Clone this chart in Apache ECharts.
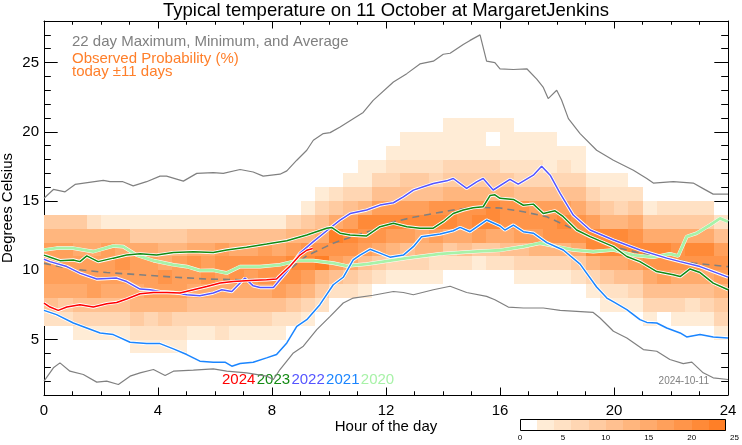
<!DOCTYPE html>
<html><head><meta charset="utf-8">
<script src="https://cdn.jsdelivr.net/npm/echarts@6/dist/echarts.min.js"></script>
<style>html,body{margin:0;padding:0;background:#fff}#c{width:742px;height:445px}</style>
</head><body><div id="c"></div><script>
const FONT = '"Liberation Sans", Arial, Helvetica, sans-serif';

// ---- data ----
const yMajor = [5, 10, 15, 20, 25];
const yMinor = [2, 3, 4, 6, 7, 8, 9, 11, 12, 13, 14, 16, 17, 18, 19, 21, 22, 23, 24, 26, 27];
const colorbarTicks = [0, 5, 10, 15, 20, 25];
const colorbarEdges = [0, 2, 4, 6, 8, 10, 12, 14, 16, 18, 20, 22, 24];
const yearLabels = ['2024', '2023', '2022', '2021', '2020'];

// probability (%) per half-hour column; first row (°C bin) of each column in probBase
const probBase = [6,6,5,5,5,5,4,4,4,4,5,5,5,5,5,5,5,6,6,7,8,8,8,9,9,9,9,9,10,10,10,10,10,9,9,9,9,9,8,7,7,7,6,7,6,6,6,5];
const probCols = [
  [5,10,14,16,17,16,13,9],
  [4,9,15,17,16,17,13,9],
  [2,6,10,14,16,16,15,12,9],
  [3,6,10,16,16,17,15,12,5],
  [3,7,10,15,17,17,16,12,3],
  [3,6,11,15,17,18,15,12,3],
  [2,4,8,12,15,17,16,14,9,3],
  [2,5,7,13,16,16,16,14,8,3],
  [2,4,8,12,16,18,15,13,9,3],
  [2,4,7,12,17,17,16,13,9,3],
  [3,6,10,15,17,18,15,11,3],
  [3,6,11,14,18,17,15,11,3],
  [4,6,10,15,17,18,16,10,3],
  [3,7,10,14,18,18,15,11,3],
  [3,6,11,15,17,19,15,10,3],
  [3,6,10,15,18,18,16,10,3],
  [3,5,10,16,19,18,15,10,3],
  [4,9,14,18,20,17,12,6],
  [3,7,12,16,21,18,12,8,3],
  [4,8,13,22,19,15,10,6,3],
  [5,10,16,19,22,14,9,5],
  [4,8,14,18,20,16,11,6,3],
  [3,6,11,16,18,21,13,7,3,2],
  [4,8,14,18,21,16,10,6,3],
  [3,6,12,17,20,17,11,7,4,3],
  [3,6,11,16,20,16,11,8,5,2,2],
  [2,6,12,15,21,17,10,8,5,2,2],
  [3,5,12,16,20,18,10,7,5,2,2],
  [4,9,14,21,19,12,9,6,3,2,2],
  [4,10,15,19,19,12,9,6,3,2,2],
  [3,9,16,20,18,13,9,6,3,2,2],
  [4,9,15,20,20,12,9,6,3,0,2],
  [4,10,15,19,19,12,9,5,3,2,2],
  [3,6,11,17,19,18,11,7,4,2,2],
  [3,6,12,17,19,17,11,7,4,2,2],
  [3,7,12,18,19,16,11,7,3,2,2],
  [3,7,13,18,20,16,10,7,4,2],
  [4,8,14,19,19,15,10,6,3,2],
  [3,7,12,20,21,17,11,6,3],
  [3,5,9,15,21,20,13,8,4,2],
  [3,5,10,15,20,21,13,7,4,2],
  [3,6,10,16,20,19,14,8,4],
  [3,6,10,15,19,20,15,9,3],
  [6,11,16,19,20,15,9,4],
  [3,6,10,14,19,19,15,9,5],
  [3,5,11,14,19,20,14,9,5],
  [3,6,10,15,18,20,15,8,5],
  [3,6,9,13,17,19,17,11,5]
];

const maxLine = [[0,15.2],[0.33,15.84],[0.74,15.67],[1.09,16.2],[2.08,16.5],[2.32,16.4],[2.77,16.4],[3.13,16.1],[3.6,16.4],[4.07,16.8],[4.3,16.8],[4.89,16.44],[5.36,17.0],[5.94,17.06],[6.29,17.0],[6.88,17.28],[7.34,17.1],[7.69,16.8],[8.28,16.94],[8.52,17.18],[8.87,17.95],[9.22,18.67],[9.45,19.39],[9.8,19.87],[10.04,19.94],[10.39,20.35],[10.85,20.95],[11.2,21.4],[11.55,22.27],[12.26,23.6],[12.73,24.2],[13.19,24.9],[13.66,25.1],[14.01,25.6],[14.25,25.67],[14.71,26.3],[14.95,26.6],[15.3,27.0],[15.53,25.1],[15.82,25.0],[16.0,24.55],[16.47,24.5],[16.94,24.55],[17.29,23.8],[17.52,23.2],[17.69,22.4],[17.99,23.0],[18.16,22.3],[18.4,20.95],[18.81,19.87],[19.39,18.67],[19.98,17.95],[20.68,17.23],[21.15,16.63],[21.38,16.3],[22.08,16.4],[22.78,16.3],[23.13,15.9],[23.48,15.5],[24,15.5]];
const minLine = [[0,2.0],[0.33,2.96],[0.56,3.32],[0.91,2.72],[1.38,2.48],[1.85,1.93],[2.2,2.0],[2.61,1.76],[3.02,2.36],[3.37,2.6],[3.84,2.84],[4.25,2.41],[4.54,2.72],[5.24,2.79],[5.94,2.89],[6.41,2.72],[7.11,2.6],[7.81,2.36],[8.05,2.12],[8.28,2.84],[8.75,4.04],[9.1,4.52],[9.57,5.72],[10.04,6.68],[10.5,7.64],[10.85,8.0],[11.55,8.2],[12.26,8.47],[12.61,8.4],[12.96,8.24],[13.66,8.6],[14.25,8.85],[14.83,8.4],[15.53,8.12],[15.82,7.88],[16.29,7.35],[16.82,7.28],[17.52,7.28],[18.11,7.11],[19.27,6.96],[19.51,6.56],[19.98,5.6],[20.45,5.12],[21.03,4.28],[21.5,4.16],[21.96,3.56],[22.43,3.27],[22.73,3.37],[23.13,2.6],[23.48,2.24],[24,2.12]];
const avgLine = [[0,10.5],[1.03,10.08],[2.2,9.84],[3.37,9.68],[4.54,9.51],[5.71,9.37],[6.88,9.32],[8.05,9.35],[8.52,9.9],[9.22,11.05],[10.15,11.96],[10.97,12.55],[11.55,12.9],[12.14,13.44],[12.96,13.83],[13.66,14.1],[14.36,14.35],[15.06,14.55],[16.0,14.5],[16.82,14.23],[17.64,13.87],[18.34,13.2],[19.16,12.39],[19.98,11.71],[20.91,11.24],[21.85,10.88],[22.78,10.52],[24,10.27]];
const y2024 = [[0,7.64],[0.21,7.35],[0.5,7.11],[0.8,7.35],[1.26,7.52],[1.73,7.35],[2.2,7.59],[2.55,7.68],[2.9,7.93],[3.37,8.31],[3.84,8.4],[4.31,8.4],[4.77,8.36],[5.24,8.6],[5.71,8.83],[6.18,9.08],[6.64,9.19],[7.23,9.27],[7.81,9.32],[8.16,9.37],[8.63,10.3],[8.98,11.1],[9.22,11.45],[9.43,11.57]];
const y2023 = [[0,11.1],[0.21,10.95],[0.56,10.7],[1.03,10.75],[1.26,10.63],[1.5,11.04],[1.9,10.63],[2.43,10.88],[2.9,11.1],[3.37,11.19],[3.95,11.1],[4.54,11.28],[5.24,11.35],[5.94,11.28],[6.41,11.47],[7.11,11.67],[7.81,11.9],[8.52,12.14],[9.22,12.55],[9.92,13.04],[10.09,13.1],[10.39,12.68],[10.74,12.55],[11.32,12.48],[11.79,13.15],[12.26,13.4],[12.73,13.15],[13.19,13.04],[13.66,13.04],[14.01,13.51],[14.36,14.1],[14.71,14.35],[15.06,14.52],[15.41,14.59],[15.65,15.4],[15.82,15.45],[16.0,15.2],[16.47,15.12],[16.82,14.7],[17.17,14.78],[17.52,14.1],[17.93,14.3],[18.22,13.87],[18.69,12.91],[19.16,12.43],[19.98,11.71],[20.45,11.0],[20.91,10.63],[21.5,9.91],[22.08,9.68],[22.32,9.55],[22.67,10.1],[23.02,9.84],[23.48,9.08],[24,8.6]];
const y2022 = [[0,10.8],[0.21,10.63],[0.8,10.27],[1.26,9.8],[1.85,9.37],[2.55,9.44],[2.9,9.19],[3.37,8.65],[3.72,8.6],[4.07,8.47],[4.54,8.4],[5.01,8.24],[5.47,8.17],[5.94,8.36],[6.24,8.6],[6.59,8.47],[6.88,9.08],[7.05,9.44],[7.34,8.88],[7.58,8.76],[8.05,8.76],[8.52,9.91],[8.98,11.24],[9.45,12.07],[9.92,12.86],[10.39,13.63],[10.74,14.1],[11.32,14.35],[11.79,14.71],[12.26,14.88],[12.61,15.3],[12.96,15.79],[13.31,16.03],[13.66,16.27],[14.13,16.46],[14.36,16.63],[14.83,15.91],[15.18,16.39],[15.41,16.63],[15.76,15.8],[16.35,16.56],[16.64,16.22],[17.17,16.87],[17.46,17.52],[17.76,16.87],[18.11,15.55],[18.57,13.99],[19.16,12.91],[19.98,12.19],[20.91,11.47],[21.85,10.88],[22.32,10.63],[23.02,10.27],[24,9.51]];
const y2021 = [[0,7.11],[0.44,6.8],[1.03,6.2],[1.5,5.84],[1.97,5.48],[2.43,5.36],[3.02,4.81],[3.6,4.71],[4.07,4.71],[4.54,4.33],[5.01,3.92],[5.47,3.44],[5.94,3.37],[6.35,3.37],[6.59,3.08],[6.88,3.27],[7.34,3.37],[7.81,3.68],[8.16,3.92],[8.52,4.76],[8.87,5.96],[9.22,6.44],[9.68,7.52],[10.15,8.96],[10.5,9.5],[10.85,10.76],[11.09,11.1],[11.44,11.52],[11.79,11.24],[12.14,10.95],[12.61,11.1],[12.96,11.71],[13.25,12.43],[13.9,12.62],[14.36,12.86],[14.6,13.1],[14.95,12.79],[15.53,13.63],[16.0,13.2],[16.17,12.91],[16.47,13.27],[16.82,12.79],[17.17,12.68],[17.64,12.0],[18.22,11.47],[18.81,10.45],[19.39,8.8],[19.75,8.0],[20.0,7.7],[20.45,7.16],[20.91,6.44],[21.15,6.24],[21.5,6.2],[21.85,5.84],[22.32,5.48],[22.55,5.19],[23.02,5.36],[23.48,5.19],[24,5.12]];
const y2020 = [[0,11.47],[0.44,11.6],[1.03,11.6],[1.73,11.35],[2.43,11.76],[2.78,11.71],[3.25,11.1],[3.84,10.7],[4.54,10.4],[5.01,10.27],[5.47,9.99],[5.94,10.0],[6.41,9.8],[6.88,10.27],[7.58,10.27],[8.28,10.4],[8.87,10.7],[9.45,10.7],[10.15,10.52],[10.62,10.32],[11.32,10.45],[12.14,10.7],[12.73,10.88],[13.9,11.19],[15.06,11.35],[16.0,11.45],[16.82,11.71],[17.4,11.96],[17.87,11.76],[18.57,11.47],[19.27,11.35],[19.98,11.47],[20.68,11.1],[21.38,10.95],[21.96,11.19],[22.25,11.04],[22.55,12.43],[22.9,12.68],[23.37,13.27],[23.72,13.75],[24,13.51]];

// ---- styles ----
const PALETTE = ['#ffffff','#ffecd6','#ffe1c4','#ffd6b3','#ffcba1','#ffc090','#ffb67e','#ffab6d','#ffa05b','#ff954a','#ff8a38','#ff7f27'];
const GRAY = '#808080';
const ORANGE = '#ff7f2a';
const YEAR_COLORS = {'2024':'#ff0000','2023':'#138a13','2022':'#5555ff','2021':'#1a85ff','2020':'#a8f2a8'};

function bandOf(v) { return Math.max(0, Math.min(11, Math.floor(v / 2))); }

const cellData = [];
probCols.forEach(function (col, c) {
  col.forEach(function (v, i) { cellData.push([c * 0.5, probBase[c] + i, v]); });
});
const cbData = [];
for (let i = 0; i < colorbarEdges.length - 1; i++) cbData.push([colorbarEdges[i], colorbarEdges[i + 1], i]);

function cellItem(params, api) {
  const h = api.value(0), t = api.value(1), v = api.value(2);
  const b = bandOf(v);
  if (b <= 0) return null;
  const p0 = api.coord([h, t + 1]);
  const p1 = api.coord([h + 0.5, t]);
  const x0 = Math.round(p0[0]), y0 = Math.round(p0[1]);
  const x1 = Math.round(p1[0]), y1 = Math.round(p1[1]);
  return { type: 'rect', shape: { x: x0, y: y0, width: x1 - x0, height: y1 - y0 }, style: { fill: PALETTE[b] } };
}
function cbItem(params, api) {
  const a = api.coord([api.value(0), 1]);
  const b = api.coord([api.value(1), 0]);
  const x0 = Math.round(a[0]), x1 = Math.round(b[0]);
  return { type: 'rect', shape: { x: x0, y: a[1], width: x1 - x0, height: b[1] - a[1] }, style: { fill: PALETTE[api.value(2)] } };
}
function cbBorder(params, api) {
  const a = api.coord([api.value(0), 1]);
  const b = api.coord([api.value(1), 0]);
  return { type: 'rect', shape: { x: Math.round(a[0]) + 0.5, y: Math.round(a[1]) + 0.5, width: Math.round(b[0] - a[0]) - 1, height: Math.round(b[1] - a[1]) - 1 }, style: { fill: null, stroke: '#000', lineWidth: 1 } };
}

function xAxisCfg(pos, labels) {
  return {
    type: 'value', gridIndex: 0, position: pos, min: 0, max: 24, interval: 4,
    axisLine: { show: true, onZero: false, lineStyle: { color: '#000', width: 1 } },
    axisTick: { show: true, inside: true, length: 7.5, lineStyle: { color: '#000' } },
    minorTick: { show: true, splitNumber: 4, length: 3.75, lineStyle: { color: '#000' } },
    axisLabel: { show: labels, color: '#000', fontSize: 15, fontFamily: FONT, margin: 8 },
    splitLine: { show: false }, minorSplitLine: { show: false }
  };
}
function yAxisCfg(pos, values, len, labels, line) {
  return {
    type: 'value', gridIndex: 0, position: pos, min: 1, max: 28,
    axisLine: { show: line, onZero: false, lineStyle: { color: '#000', width: 1 } },
    axisTick: { show: true, inside: true, length: len, customValues: values, lineStyle: { color: '#000' } },
    axisLabel: { show: labels, customValues: values, color: '#000', fontSize: 15, fontFamily: FONT, margin: 5 },
    splitLine: { show: false }
  };
}

function lineSeries(name, data, color, width, extra) {
  return Object.assign({
    name: name, type: 'line', xAxisIndex: 0, yAxisIndex: 0, data: data,
    showSymbol: false, symbol: 'none', smooth: false, clip: true, silent: true,
    lineStyle: { color: color, width: width }
  }, extra || {});
}

const series = [
  { type: 'custom', xAxisIndex: 0, yAxisIndex: 0, renderItem: cellItem, data: cellData, clip: true, silent: true },
  lineSeries('max', maxLine, GRAY, 1.2),
  lineSeries('min', minLine, GRAY, 1.2),
  lineSeries('avg', avgLine, GRAY, 1.6, { lineStyle: { color: GRAY, width: 1.6, type: [7, 5] } })
];
const yearData = { '2020': y2020, '2021': y2021, '2022': y2022, '2023': y2023, '2024': y2024 };
['2020', '2021', '2022', '2023', '2024'].forEach(function (y) {
  const w = y === '2020' ? 2.8 : 1.5;
  const halo = y === '2020' ? 0.8 : 1.8;
  series.push(lineSeries(y + 'halo', yearData[y], '#ffffff', w + halo));
  series.push(lineSeries(y, yearData[y], YEAR_COLORS[y], w));
});
series.push({ type: 'custom', xAxisIndex: 2, yAxisIndex: 4, renderItem: cbItem, data: cbData, silent: true });
series.push({ type: 'custom', xAxisIndex: 2, yAxisIndex: 4, renderItem: cbBorder, data: [[colorbarEdges[0], colorbarEdges[colorbarEdges.length - 1]]], silent: true, z: 3 });

const texts = [
  { x: 386, y: 11, text: 'Typical temperature on 11 October at MargaretJenkins', size: 18.5, color: '#000', align: 'center' },
  { x: 72, y: 42, text: '22 day Maximum, Minimum, and Average', size: 15, color: GRAY, align: 'left' },
  { x: 72, y: 59, text: 'Observed Probability (%)', size: 15, color: ORANGE, align: 'left' },
  { x: 72, y: 71.5, text: 'today \u00b111 days', size: 15, color: ORANGE, align: 'left' },
  { x: 386, y: 427, text: 'Hour of the day', size: 15, color: '#000', align: 'center' },
  { x: 709, y: 381, text: '2024-10-11', size: 10, color: GRAY, align: 'right' }
];
const graphics = texts.map(function (t) {
  return { type: 'text', x: t.x, y: t.y, silent: true, style: { text: t.text, fill: t.color, font: t.size + 'px ' + FONT, align: t.align, textAlign: t.align, verticalAlign: 'middle', textVerticalAlign: 'middle' } };
});
graphics.push({ type: 'text', x: 8, y: 208, rotation: Math.PI / 2, silent: true, style: { text: 'Degrees Celsius', fill: '#000', font: '15px ' + FONT, align: 'center', textAlign: 'center', verticalAlign: 'middle', textVerticalAlign: 'middle' } });
yearLabels.forEach(function (y, i) {
  graphics.push({ type: 'text', x: 222 + i * 34.7, y: 380, silent: true, style: { text: y, fill: YEAR_COLORS[y], font: '15px ' + FONT, align: 'left', textAlign: 'left', verticalAlign: 'middle', textVerticalAlign: 'middle' } });
});

const option = {
  animation: false,
  backgroundColor: '#fff',
  grid: [
    { left: 44, right: 14, top: 21, bottom: 50, containLabel: false },
    { left: 520, top: 419, width: 216.7, height: 12, containLabel: false }
  ],
  xAxis: [
    xAxisCfg('bottom', true),
    xAxisCfg('top', false),
    { type: 'value', gridIndex: 1, position: 'bottom', min: 0, max: 25, interval: 5,
      axisLine: { show: false }, axisTick: { show: false }, splitLine: { show: false },
      axisLabel: { show: true, color: '#000', fontSize: 8, fontFamily: FONT, margin: 3, customValues: colorbarTicks } }
  ],
  yAxis: [
    yAxisCfg('left', yMajor, 13.7, true, true),
    yAxisCfg('right', yMajor, 13.7, false, true),
    yAxisCfg('left', yMinor, 6.8, false, false),
    yAxisCfg('right', yMinor, 6.8, false, false),
    { type: 'value', gridIndex: 1, min: 0, max: 1, show: false }
  ],
  series: series,
  graphic: { elements: graphics }
};

const chart = echarts.init(document.getElementById('c'), null, { renderer: 'canvas' });
chart.setOption(option);
</script></body></html>
